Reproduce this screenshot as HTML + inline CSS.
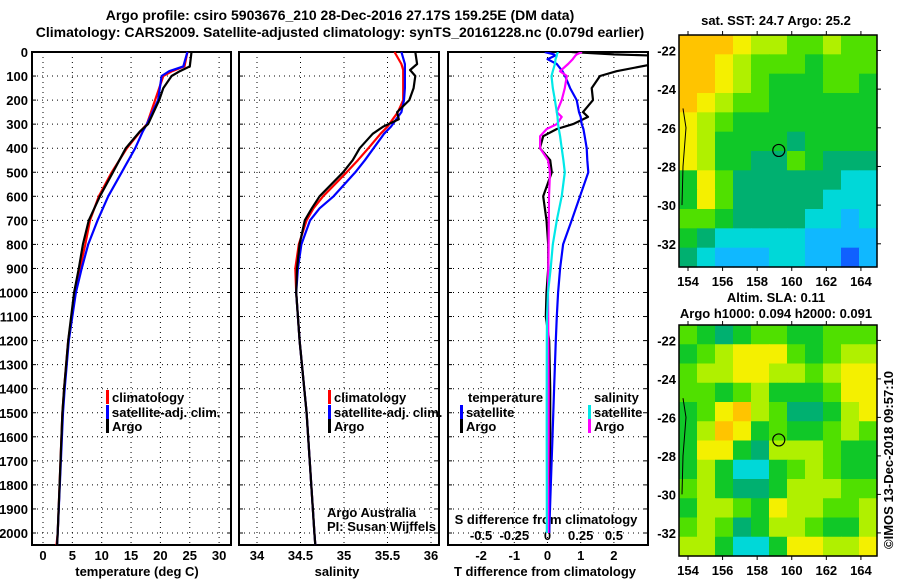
<!DOCTYPE html>
<html><head><meta charset="utf-8">
<style>
html,body{margin:0;padding:0;background:#fff;}
svg{display:block;font-family:"Liberation Sans",Arial,sans-serif;}
.t{font-weight:bold;font-size:14px;}
.tk{font-weight:bold;font-size:13px;}
.lg{font-weight:bold;font-size:13px;}
</style></head>
<body>
<svg id="c" width="900" height="580" viewBox="0 0 900 580">
<text class="t" x="340" y="20" text-anchor="middle">Argo profile: csiro 5903676_210 28-Dec-2016 27.17S 159.25E (DM data)</text>
<text class="t" x="340" y="37" text-anchor="middle">Climatology: CARS2009. Satellite-adjusted climatology: synTS_20161228.nc (0.079d earlier)</text>
<g id="g"></g>
</svg>
<script>
// ---------- data ----------
const tDepth=[0,60,80,100,150,200,300,330,400,500,600,700,800,900,1000,1200,1400,1500,2000,2050];
const tClim=[24.6,24.1,22.0,20.5,19.8,19.1,17.7,16.6,14.3,11.7,9.5,8.0,7.2,6.3,5.5,4.3,3.6,3.3,2.5,2.3];
const tSat=[24.6,23.9,21.5,20.2,19.9,19.6,17.7,17.0,15.7,13.4,11.1,9.3,7.7,6.6,5.6,4.4,3.7,3.4,2.5,2.4];
const tArgo=[25.3,25.0,23.3,21.9,20.5,19.8,17.9,16.5,14.1,11.9,9.7,7.8,6.8,6.1,5.3,4.3,3.6,3.3,2.5,2.4];
const sDepth=[0,50,75,100,150,200,250,280,310,340,400,450,500,600,650,700,800,900,1000,1200,1500,2000,2050];
const sClim=[35.58,35.66,35.68,35.68,35.68,35.68,35.62,35.56,35.50,35.42,35.28,35.16,35.03,34.76,34.65,34.57,34.48,34.44,34.45,34.49,34.57,34.66,34.67];
const sSat=[35.66,35.70,35.70,35.70,35.70,35.69,35.66,35.60,35.54,35.46,35.34,35.24,35.13,34.88,34.72,34.61,34.51,34.47,34.45,34.49,34.57,34.66,34.67];
const sArgo=[35.82,35.84,35.76,35.82,35.80,35.75,35.61,35.63,35.45,35.33,35.18,35.10,34.99,34.72,34.63,34.55,34.49,34.46,34.45,34.49,34.57,34.66,34.67];
const dDepth=[0,10,15,30,50,80,100,150,200,250,270,300,320,350,400,450,500,600,700,800,900,1000,1100,1200,1400,1600,1800,2000];
const dTsat=[-0.08,0.2,0.23,0.0,0.28,0.45,0.53,0.68,0.88,0.95,1.0,1.03,1.08,1.12,1.18,1.2,1.23,0.98,0.73,0.47,0.38,0.32,0.28,0.25,0.2,0.15,0.1,0.05];
const dTargo=[0.73,2.0,3.2,3.2,3.2,2.08,1.58,1.33,1.37,1.07,1.22,0.77,0.28,-0.13,-0.23,0.08,0.13,-0.13,-0.03,0.02,0.02,-0.03,-0.05,0.05,0.08,0.08,0.06,0.05];
const dSsat=[0.08,0.07,0.07,0.06,0.056,0.04,0.03,0.04,0.056,0.07,0.075,0.08,0.085,0.095,0.107,0.12,0.13,0.107,0.07,0.04,0.024,0.004,-0.004,-0.005,-0.006,-0.006,-0.005,-0.005];
const dSargo=[0.26,0.22,0.21,0.19,0.155,0.094,0.145,0.13,0.107,0.07,0.107,0.07,-0.006,-0.056,-0.056,0.004,0.019,0.011,0.01,0.008,0.006,0.004,0.005,0.006,0.008,0.008,0.006,0.005];
const depthTicks=[0,100,200,300,400,500,600,700,800,900,1000,1100,1200,1300,1400,1500,1600,1700,1800,1900,2000];
const tTicks=[0,5,10,15,20,25,30];
const sTicks=[34,34.5,35,35.5,36];
const sLabels=["34","34.5","35","35.5","36"];
const dtTicks=[-2,-1,0,1,2];
const dsTicks=[-0.5,-0.25,0,0.25,0.5];
const dsLabels=["-0.5","-0.25","0","0.25","0.5"];
const lonTicks=[154,156,158,160,162,164];
const latTicks=[-22,-24,-26,-28,-30,-32];
const sstGrid=[
[8,8,8,7,6,6,5,5,6,5,5],
[8,8,7,6,5,5,5,4,5,5,5],
[8,8,7,6,5,4,4,4,5,5,4],
[8,7,6,5,5,4,4,4,4,4,4],
[7,6,5,4,4,4,4,4,4,4,4],
[7,6,4,4,4,4,3,4,4,4,4],
[7,6,4,4,3,3,5,4,3,3,3],
[4,7,5,3,3,3,3,3,3,2,2],
[4,7,5,3,3,3,3,3,2,2,2],
[5,5,4,3,3,3,3,2,2,1,2],
[4,3,2,2,2,2,2,1,1,1,1],
[3,2,1,1,1,2,2,1,1,0,1]];
const slaGrid=[
[5,4,3,4,5,5,4,4,5,5,5],
[4,5,6,7,7,7,5,4,5,6,6],
[5,6,6,7,7,6,6,5,6,7,7],
[5,5,4,5,6,4,4,4,5,7,7],
[4,5,7,8,6,5,3,3,4,6,7],
[4,6,8,7,4,5,4,4,5,6,5],
[4,7,7,4,3,6,6,6,5,4,4],
[4,6,4,2,2,4,5,6,5,4,4],
[5,6,4,3,3,4,6,6,6,5,5],
[4,6,6,5,4,7,6,6,5,5,6],
[5,6,5,3,4,6,6,5,4,4,6],
[6,6,4,2,2,4,7,7,6,6,7]];
const palette=["#1060ff","#10b8ff","#00d8d8","#00b070","#10c828","#50e000","#b0f000","#f4f000","#ffc400"];
const argoLon=159.25, argoLat=-27.17;

// ---------- helpers ----------
const NS="http://www.w3.org/2000/svg";
const G=document.getElementById('g');
function mk(tag,attrs,parent){const e=document.createElementNS(NS,tag);for(const k in attrs)e.setAttribute(k,attrs[k]);(parent||G).appendChild(e);return e;}
function txt(x,y,s,cls,anchor,parent){const e=mk('text',{x:x,y:y,'class':cls||'tk','text-anchor':anchor||'middle'},parent);e.textContent=s;return e;}
const yD=d=>52+d*0.2405;
const xT=v=>43+v*5.87;
const xS=v=>257+(v-34)*87;
const xDT=v=>547.5+v*33.2;
const xDS=v=>547.5+v*132.8;

const panels=[{x0:32,x1:231,name:'temperature-panel'},{x0:239,x1:439,name:'salinity-panel'},{x0:448,x1:648,name:'difference-panel'}];
mk('clipPath',{id:'cp3'}).appendChild(document.createElementNS(NS,'rect'));
document.querySelector('#cp3 rect').setAttribute('x',448);
document.querySelector('#cp3 rect').setAttribute('y',52);
document.querySelector('#cp3 rect').setAttribute('width',200);
document.querySelector('#cp3 rect').setAttribute('height',493);

panels.forEach((p,i)=>{
  const grp=mk('g',{});
  
  
  depthTicks.forEach(d=>{
    if(d>0){const l=mk('line',{x1:p.x0,x2:p.x1,y1:yD(d),y2:yD(d),stroke:'#000','stroke-width':1,'stroke-dasharray':'1,4'},grp);
    }
    mk('line',{x1:p.x0,x2:p.x0+4,y1:yD(d),y2:yD(d),stroke:'#000'},grp);
    mk('line',{x1:p.x1,x2:p.x1-4,y1:yD(d),y2:yD(d),stroke:'#000'},grp);
  });
  let xs=[];
  if(i==0) xs=tTicks.map(xT); else if(i==1) xs=sTicks.map(xS); else xs=dtTicks.map(xDT);
  xs.forEach(x=>{const l=mk('line',{x1:x,x2:x,y1:52,y2:545,stroke:'#000','stroke-dasharray':'1,4'},grp);
    });
  const r=mk('rect',{x:p.x0,y:52,width:p.x1-p.x0,height:493,fill:'none',stroke:'#000','stroke-width':2},grp);
  
});
// y tick labels
depthTicks.forEach(d=>{const e=txt(28,yD(d)+5,String(d),'tk','end');
  });
tTicks.forEach(v=>{const e=txt(xT(v),560,String(v));});
sTicks.forEach((v,i)=>{const e=txt(xS(v),560,sLabels[i]);});
dtTicks.forEach(v=>{const e=txt(xDT(v),560,String(v));});
dsTicks.forEach((v,i)=>{const e=txt(xDS(v),540,dsLabels[i]);});
let e;
e=txt(137,576,'temperature (deg C)');
e=txt(337,576,'salinity');
e=txt(545,576,'T difference from climatology');
e=txt(546,524,'S difference from climatology');
e=txt(327,517,'Argo Australia','','start');e.setAttribute('font-size','12');
e=txt(327,531,'PI: Susan Wijffels','','start');e.setAttribute('font-size','12');

function line(depths,vals,xf,color,name,clip){
  const pts=depths.map((d,i)=>xf(vals[i]).toFixed(1)+','+yD(d).toFixed(1)).join(' ');
  const a={points:pts,fill:'none',stroke:color,'stroke-width':2.2,'stroke-linejoin':'round'};
  if(clip)a['clip-path']='url(#cp3)';
  const l=mk('polyline',a);
  
  
}
line(tDepth,tClim,xT,'#ff0000','temperature-climatology-line');
line(tDepth,tSat,xT,'#0000ff','temperature-satellite-line');
line(tDepth,tArgo,xT,'#000000','temperature-argo-line');
line(sDepth,sClim,xS,'#ff0000','salinity-climatology-line');
line(sDepth,sSat,xS,'#0000ff','salinity-satellite-line');
line(sDepth,sArgo,xS,'#000000','salinity-argo-line');
line(dDepth,dTargo,xDT,'#000000','t-diff-argo-line',true);
line(dDepth,dTsat,xDT,'#0000ff','t-diff-satellite-line',true);
line(dDepth,dSargo,xDS,'#ff00ff','s-diff-argo-line',true);
line(dDepth,dSsat,xDS,'#00e8e8','s-diff-satellite-line',true);

function legend(x,y,color,label,name){
  const r=mk('rect',{x:x-1,y:y-7,width:3,height:14,fill:color});
  
  const t=txt(x+5,y+5,label,'lg','start');
  
}
legend(107,397,'#ff0000','climatology','legend-climatology');
legend(107,412,'#0000ff','satellite-adj. clim.','legend-satellite-adj');
legend(107,426,'#000000','Argo','legend-argo');
legend(329,397,'#ff0000','climatology','legend-climatology-sal');
legend(329,412,'#0000ff','satellite-adj. clim.','legend-satellite-adj-sal');
legend(329,426,'#000000','Argo','legend-argo-sal');
e=txt(468,402,'temperature','lg','start');
legend(461,412,'#0000ff','satellite','legend-t-satellite');
legend(461,426,'#000000','Argo','legend-t-argo');
e=txt(594,402,'salinity','lg','start');
legend(589,412,'#00e8e8','satellite','legend-s-satellite');
legend(589,426,'#ff00ff','Argo','legend-s-argo');

// ---------- maps ----------
function drawMap(grid,top,bottom,name,title1,title2){
  const x0=679,x1=877,lon0=153.48,lon1=164.93,lat0=-21.2,lat1=-33.2;
  const lx=v=>x0+(v-lon0)*(x1-x0)/(lon1-lon0);
  const ly=v=>top+(lat0-v)*(bottom-top)/(lat0-lat1);
  const grp=mk('g',{});
  
  
  const rows=grid.length,cols=grid[0].length;
  const cw=(x1-x0)/cols,ch=(bottom-top)/rows;
  grid.forEach((row,r)=>row.forEach((v,c)=>{
    const cell=mk('rect',{x:(x0+c*cw).toFixed(2),y:(top+r*ch).toFixed(2),width:(cw+0.6).toFixed(2),height:(ch+0.6).toFixed(2),fill:palette[v]},grp);
    
    
  }));
  // coastline hint
  mk('path',{d:`M${x0+4},${ly(-25)} L${x0+7},${ly(-26)} L${x0+4},${ly(-28)} L${x0+3},${ly(-30)}`,fill:'none',stroke:'#000'},grp);
  mk('rect',{x:x0,y:top,width:x1-x0,height:bottom-top,fill:'none',stroke:'#000','stroke-width':1.5},grp);
  const c=mk('circle',{cx:lx(argoLon),cy:ly(argoLat),r:6,fill:'none',stroke:'#000','stroke-width':1.2},grp);
  
  lonTicks.forEach(v=>{
    mk('line',{x1:lx(v),x2:lx(v),y1:bottom,y2:bottom+4,stroke:'#000'},grp);
    mk('line',{x1:lx(v),x2:lx(v),y1:top,y2:top-4,stroke:'#000'},grp);
    const t=txt(lx(v),bottom+19,String(v),'tk','middle',grp);
    
  });
  latTicks.forEach(v=>{
    mk('line',{x1:x1,x2:x1+4,y1:ly(v),y2:ly(v),stroke:'#000'},grp);
    const t=txt(676,ly(v)+5,String(v),'tk','end',grp);
    
  });
  const a=txt(776,title1[1],title1[0],'tk','middle',grp);
  
  if(title2){const b=txt(776,title2[1],title2[0],'tk','middle',grp);
    }
}
drawMap(sstGrid,35,267,'sst-map',['sat. SST: 24.7 Argo: 25.2',25]);
drawMap(slaGrid,325,556,'sla-map',['Altim. SLA: 0.11',302],['Argo h1000: 0.094 h2000: 0.091',318]);
e=txt(0,0,'©IMOS 13-Dec-2018 09:57:10','','middle');
e.setAttribute('font-size','13');
e.setAttribute('transform','translate(893,460) rotate(-90)');


</script>
</body></html>
